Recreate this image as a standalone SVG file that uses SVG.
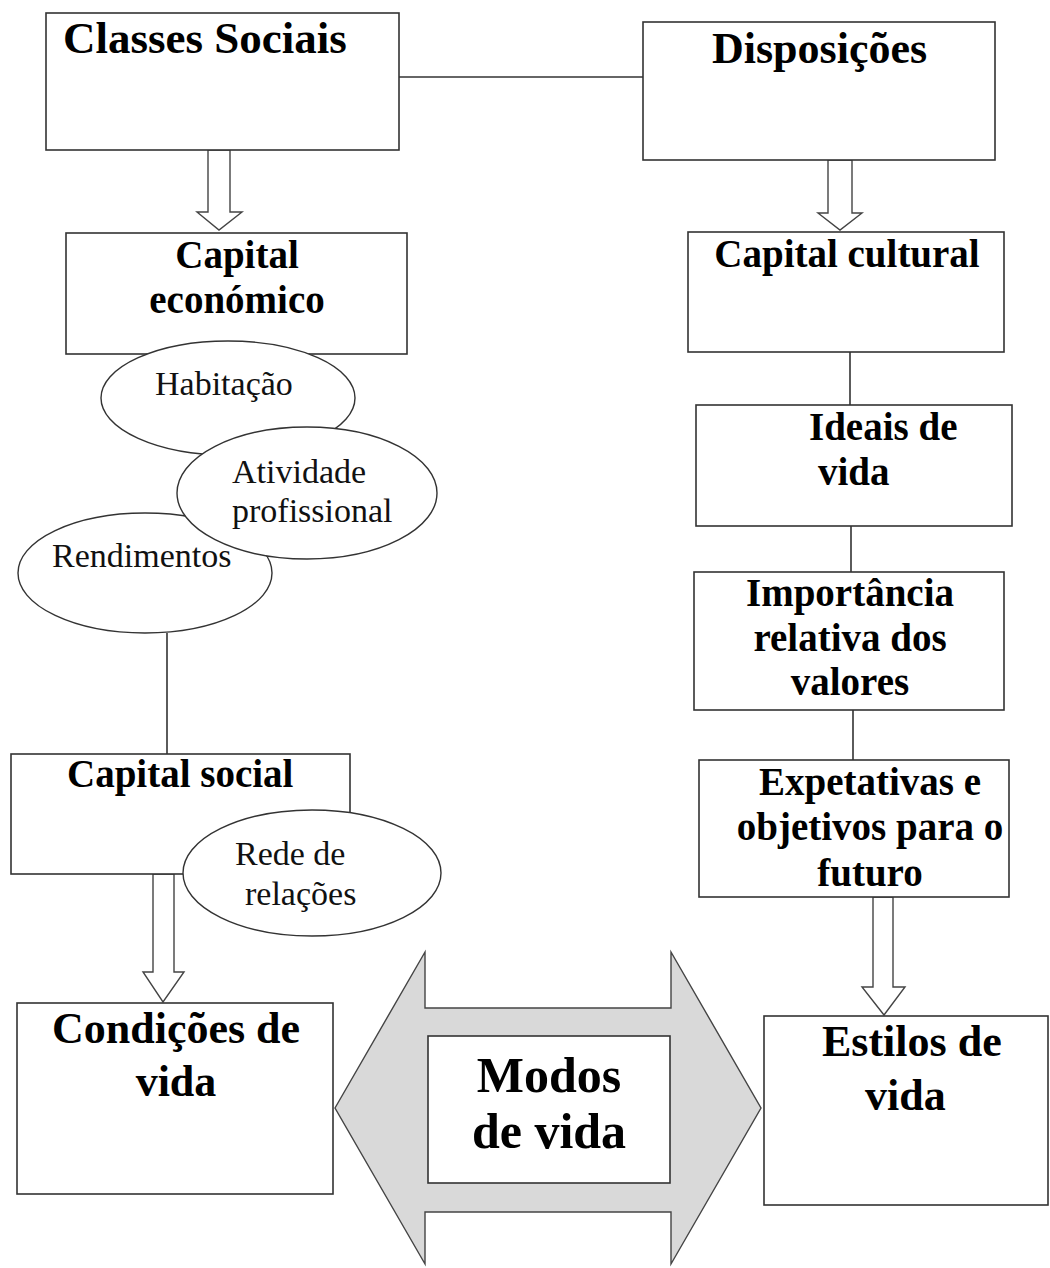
<svg xmlns="http://www.w3.org/2000/svg" width="1050" height="1268" viewBox="0 0 1050 1268">
<style>
.box{fill:#fff;stroke:#333;stroke-width:1.6}
.ell{fill:#fff;stroke:#333;stroke-width:1.4}
.ln{stroke:#333;stroke-width:1.6;fill:none}
.barr{fill:#fff;stroke:#444;stroke-width:1.4}
.big{fill:#d9d9d9;stroke:#444;stroke-width:1.4}
.b{font-family:"Liberation Serif","Times New Roman",serif;font-weight:bold;fill:#000}
.r{font-family:"Liberation Serif","Times New Roman",serif;fill:#111}
.t45{font-size:45px}.t44{font-size:44px}.t39{font-size:39px}.t50{font-size:50px}.t34{font-size:34px}
.m{text-anchor:middle}
</style>
<rect width="1050" height="1268" fill="#fff"/>
<g id="connectors">
<line class="ln" x1="399" y1="77" x2="643" y2="77"/>
<line class="ln" x1="850" y1="352" x2="850" y2="405"/>
<line class="ln" x1="851" y1="526" x2="851" y2="572"/>
<line class="ln" x1="853" y1="710" x2="853" y2="760"/>
<line class="ln" x1="167" y1="633" x2="167" y2="754"/>
<polygon class="barr" points="208,150 230,150 230,212 242,212 219,230 197,212 208,212"/>
<polygon class="barr" points="828,160 852,160 852,213 862,213 840,230 818,213 828,213"/>
<polygon class="barr" points="873,897 893,897 893,987 905,987 884,1015 862,987 873,987"/>
<polygon class="barr" points="153,874 174,874 174,972 184,972 163,1002 143,972 153,972"/>
</g>
<g id="classes-sociais">
<rect class="box" x="46" y="13" width="353" height="137"/>
<text class="b t45" x="63" y="53">Classes Sociais</text>
</g>
<g id="disposicoes">
<rect class="box" x="643" y="22" width="352" height="138"/>
<text class="b t44" x="712" y="63">Disposições</text>
</g>
<g id="capital-economico">
<rect class="box" x="66" y="233" width="341" height="121"/>
<text class="b t39 m" x="237" y="268">Capital</text>
<text class="b t39 m" x="237" y="313">económico</text>
</g>
<g id="habitacao">
<ellipse class="ell" cx="228" cy="398" rx="127" ry="57"/>
<text class="r t34" x="155" y="395">Habitação</text>
</g>
<g id="rendimentos">
<ellipse class="ell" cx="145" cy="573" rx="127" ry="60"/>
<text class="r t34" x="52" y="567">Rendimentos</text>
</g>
<g id="atividade-profissional">
<ellipse class="ell" cx="307" cy="493" rx="130" ry="66"/>
<text class="r t34" x="232" y="483">Atividade</text>
<text class="r t34" x="232" y="522">profissional</text>
</g>
<g id="capital-social">
<rect class="box" x="11" y="754" width="339" height="120"/>
<text class="b t39" x="67" y="787">Capital social</text>
</g>
<g id="rede-de-relacoes">
<ellipse class="ell" cx="312" cy="873" rx="129" ry="63"/>
<text class="r t34" x="235" y="865">Rede de</text>
<text class="r t34" x="245" y="905">relações</text>
</g>
<g id="capital-cultural">
<rect class="box" x="688" y="232" width="316" height="120"/>
<text class="b t39 m" x="847" y="267">Capital cultural</text>
</g>
<g id="ideais-de-vida">
<rect class="box" x="696" y="405" width="316" height="121"/>
<text class="b t39" x="809" y="440">Ideais de</text>
<text class="b t39" x="818" y="485">vida</text>
</g>
<g id="importancia-valores">
<rect class="box" x="694" y="572" width="310" height="138"/>
<text class="b t39 m" x="850" y="606">Importância</text>
<text class="b t39 m" x="850" y="651">relativa dos</text>
<text class="b t39 m" x="850" y="695">valores</text>
</g>
<g id="expetativas">
<rect class="box" x="699" y="760" width="310" height="137"/>
<text class="b t39 m" x="870" y="795">Expetativas e</text>
<text class="b t39 m" x="870" y="840">objetivos para o</text>
<text class="b t39 m" x="870" y="886">futuro</text>
</g>
<g id="modos-de-vida">
<polygon class="big" points="335,1108 425,952 425,1008 671,1008 671,952 761,1108 671,1264 671,1212 425,1212 425,1264"/>
<rect class="box" x="428" y="1036" width="242" height="147"/>
<text class="b t50 m" x="549" y="1092">Modos</text>
<text class="b t50 m" x="549" y="1148">de vida</text>
</g>
<g id="condicoes-de-vida">
<rect class="box" x="17" y="1003" width="316" height="191"/>
<text class="b t44 m" x="176" y="1043">Condições de</text>
<text class="b t44 m" x="176" y="1096">vida</text>
</g>
<g id="estilos-de-vida">
<rect class="box" x="764" y="1016" width="284" height="189"/>
<text class="b t44" x="822" y="1056">Estilos de</text>
<text class="b t44" x="865" y="1110">vida</text>
</g>
</svg>
